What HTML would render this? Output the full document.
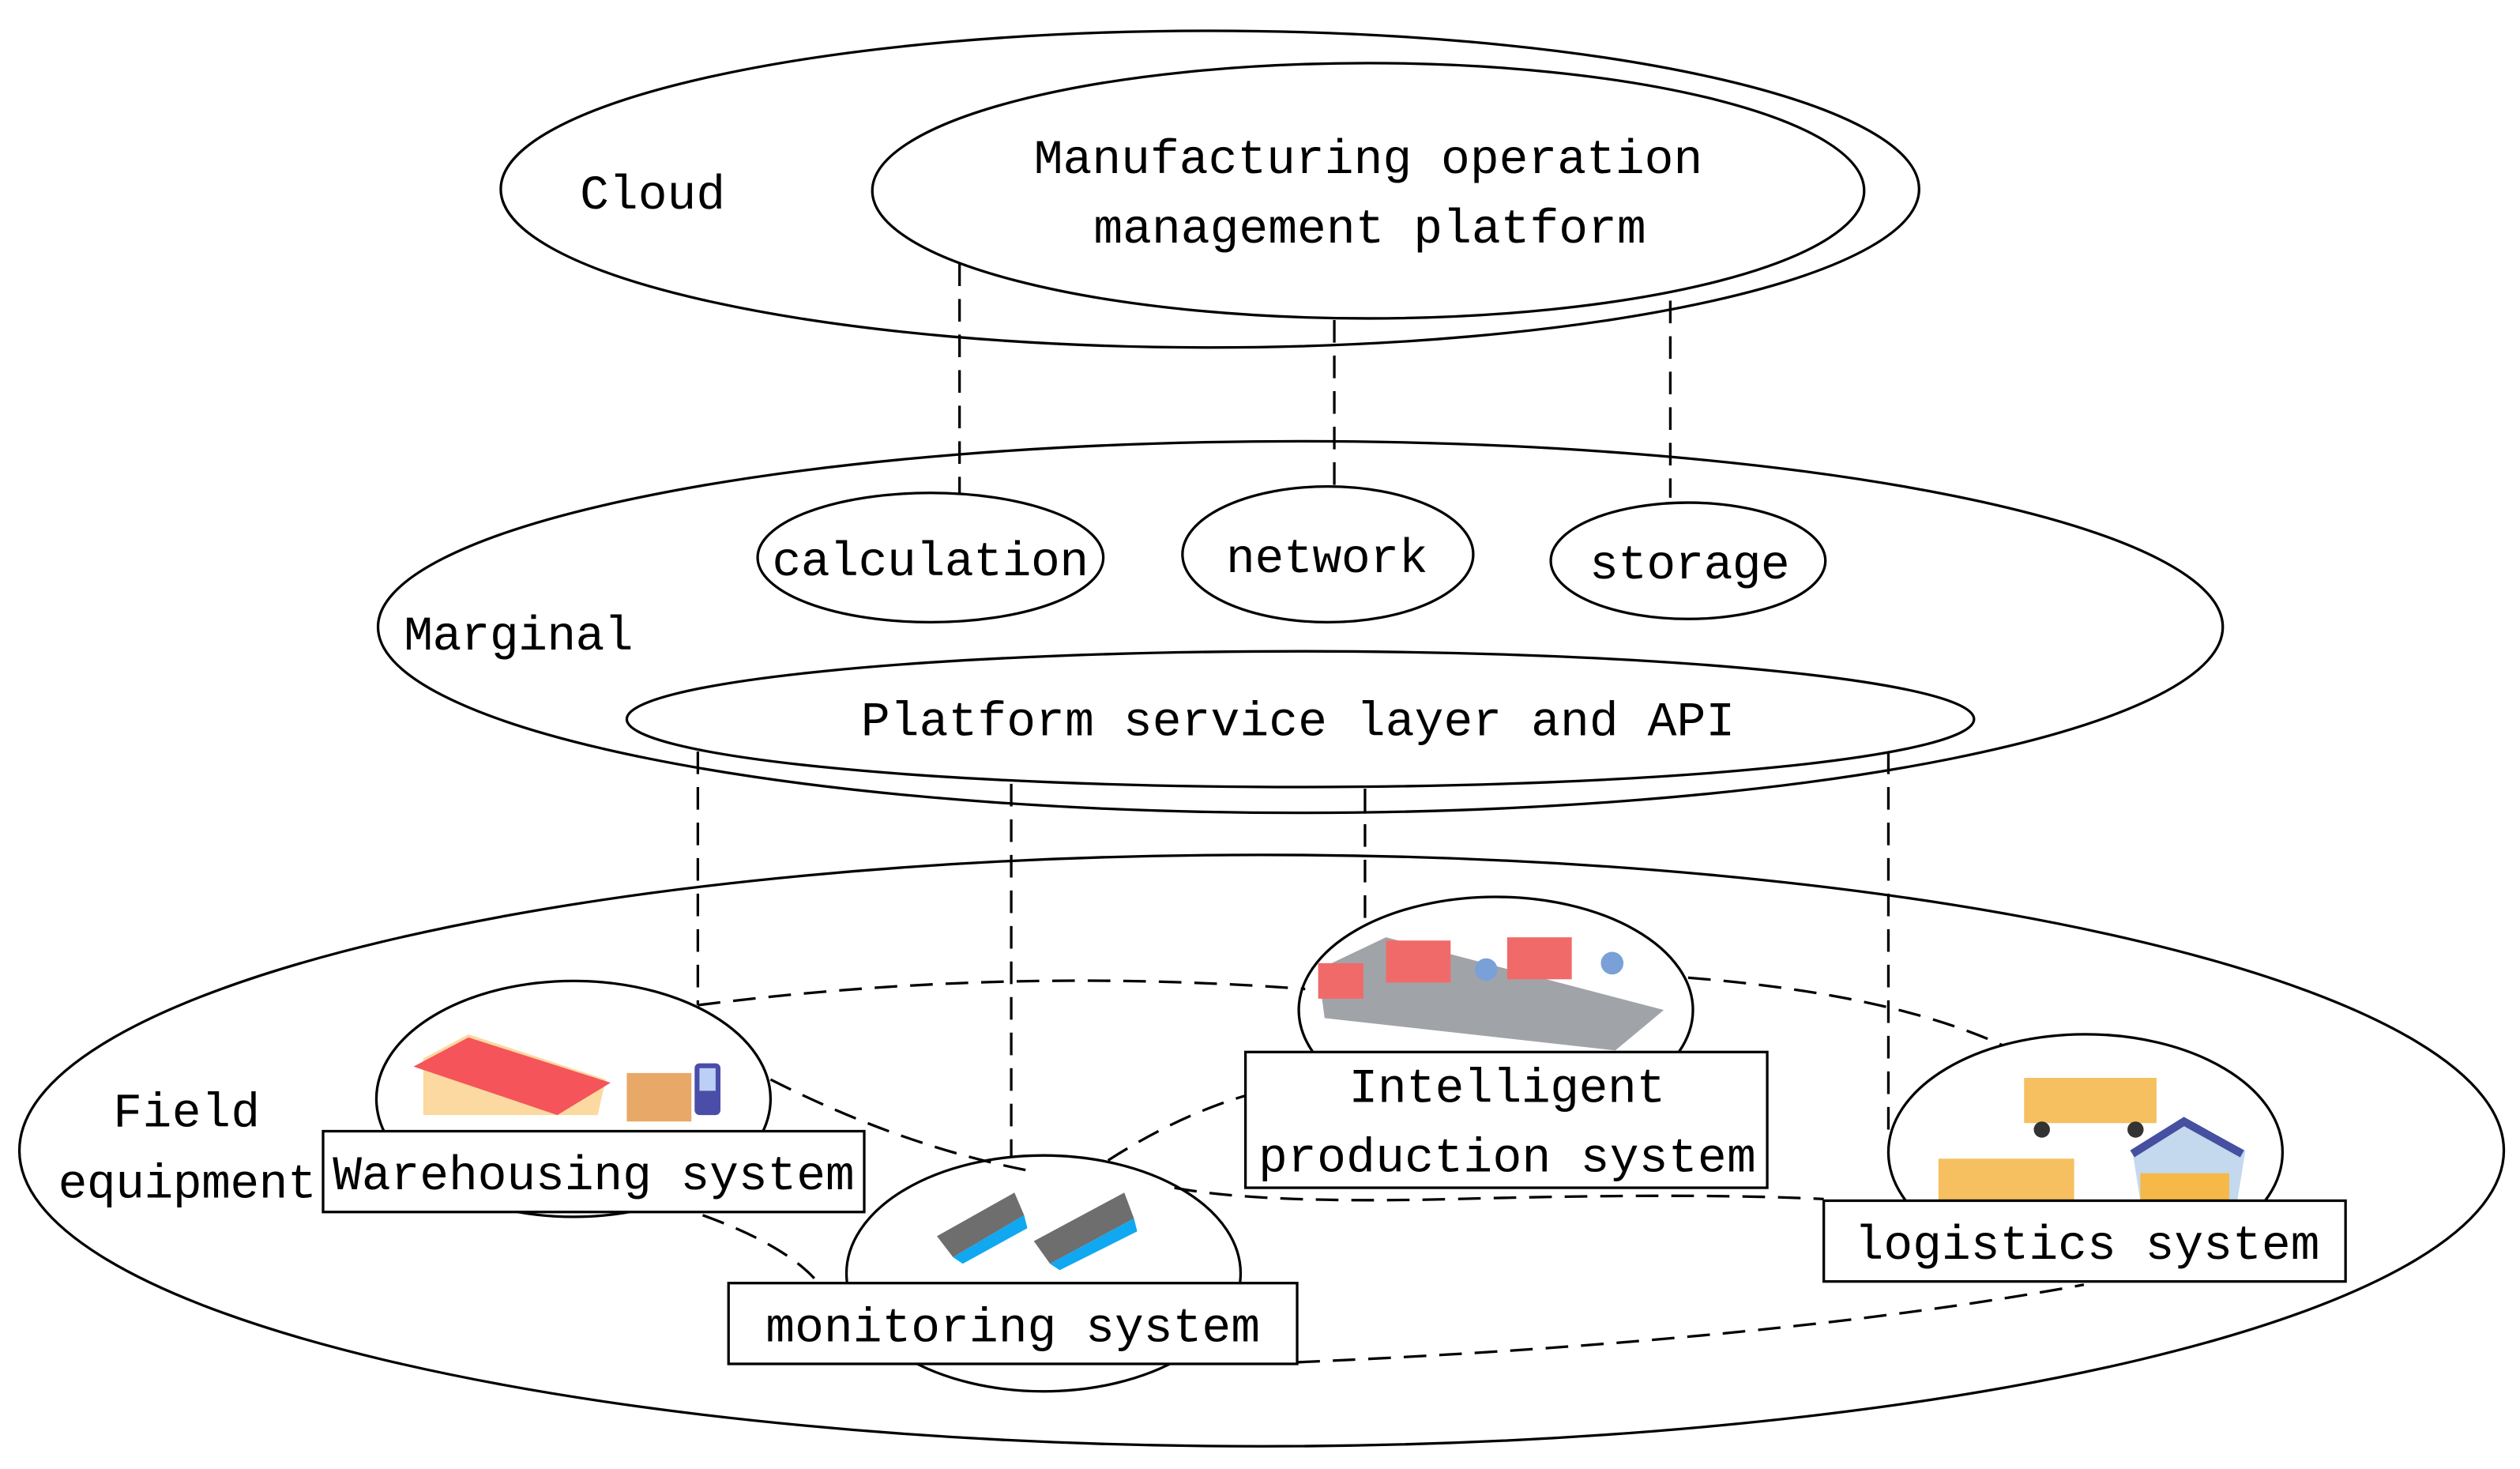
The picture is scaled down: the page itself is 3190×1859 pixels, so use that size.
<!DOCTYPE html>
<html><head><meta charset="utf-8"><style>html,body{margin:0;padding:0;background:#fff}svg{display:block}</style></head>
<body>
<svg width="3190" height="1859" viewBox="0 0 1560 909" xmlns="http://www.w3.org/2000/svg" font-family="'Liberation Mono','Noto Serif CJK SC',monospace" font-size="30">
<g fill="none" stroke="#000" stroke-width="1.6">
<ellipse cx="749" cy="117" rx="439" ry="98"/>
<ellipse cx="847" cy="118" rx="307" ry="79"/>
<ellipse cx="805" cy="388" rx="571" ry="115"/>
<ellipse cx="576" cy="345" rx="107" ry="40"/>
<ellipse cx="822" cy="343" rx="90" ry="42"/>
<ellipse cx="1045" cy="347" rx="85" ry="36"/>
<ellipse cx="805" cy="445" rx="417" ry="42"/>
<ellipse cx="781" cy="712" rx="769" ry="183"/>
<ellipse cx="355" cy="680" rx="122" ry="73"/>
<ellipse cx="926" cy="625" rx="122" ry="70"/>
<ellipse cx="646" cy="788" rx="122" ry="73"/>
<ellipse cx="1291" cy="713" rx="122" ry="73"/>
</g>
<g fill="none" stroke="#000" stroke-width="1.6" stroke-dasharray="14,8">
<line x1="594" y1="163" x2="594" y2="305"/>
<line x1="826" y1="198" x2="826" y2="300"/>
<line x1="1034" y1="186" x2="1034" y2="308"/>
<line x1="432" y1="465" x2="432" y2="622"/>
<line x1="626" y1="485" x2="626" y2="716"/>
<line x1="845" y1="488" x2="845" y2="575"/>
<line x1="1169" y1="465" x2="1169" y2="700"/>
<path d="M432 622 Q620 598 808 612"/>
<path d="M1045 605 Q1170 615 1240 647"/>
<path d="M477 668 Q560 710 640 725"/>
<path d="M727 735 Q780 745 900 742 Q1050 738 1129 742"/>
<path d="M686 718 Q730 690 771 678"/>
<path d="M435 752 Q485 770 505 792"/>
<path d="M803 843 Q1100 830 1290 795"/>
</g>
<g>
<polygon points="262,655 290,640 375,668 370,690 262,690" fill="#fbd9a0"/>
<polygon points="256,660 290,642 378,670 345,690" fill="#f4545a"/>
<rect x="388" y="664" width="40" height="30" fill="#e8a868"/>
<rect x="430" y="658" width="16" height="32" rx="3" fill="#4a4ea8"/>
<rect x="433" y="661" width="10" height="14" fill="#bcd0f5"/>
<polygon points="816,600 858,580 1030,625 1000,650 820,630" fill="#a0a4a8"/>
<rect x="816" y="596" width="28" height="22" fill="#f06a6a"/>
<rect x="858" y="582" width="40" height="26" fill="#f06a6a"/>
<rect x="933" y="580" width="40" height="26" fill="#f06a6a"/>
<circle cx="920" cy="600" r="7" fill="#7aa0d8"/><circle cx="998" cy="596" r="7" fill="#7aa0d8"/>
<polygon points="580,765 628,738 634,752 590,778" fill="#6e6e6e"/>
<polygon points="590,778 634,752 636,760 596,782" fill="#10a8f0"/>
<polygon points="640,768 696,738 702,754 650,782" fill="#6e6e6e"/>
<polygon points="650,782 702,754 704,762 656,786" fill="#10a8f0"/>
<rect x="1253" y="667" width="82" height="28" fill="#f6c060"/>
<circle cx="1264" cy="699" r="5" fill="#333"/><circle cx="1322" cy="699" r="5" fill="#333"/>
<rect x="1200" y="717" width="84" height="26" fill="#f6c060"/>
<polygon points="1320,712 1352,692 1390,712 1385,743 1325,743" fill="#c4d8ee"/>
<polyline points="1320,714 1352,694 1388,714" fill="none" stroke="#4550a0" stroke-width="5"/>
<rect x="1325" y="726" width="55" height="17" fill="#f6b848"/>
</g>
<g fill="#fff" stroke="#000" stroke-width="1.6">
<rect x="200" y="700" width="335" height="50"/>
<rect x="771" y="651" width="323" height="84"/>
<rect x="451" y="794" width="352" height="50"/>
<rect x="1129" y="743" width="323" height="50"/>
</g>
<g fill="#000">
<text x="359" y="129" textLength="90">Cloud</text>
<text x="640" y="107" textLength="414">Manufacturing operation</text>
<text x="677" y="150" textLength="342">management platform</text>
<text x="478" y="356" textLength="196">calculation</text>
<text x="759" y="354" textLength="125">network</text>
<text x="984" y="358" textLength="124">storage</text>
<text x="250" y="402" textLength="142">Marginal</text>
<text x="533" y="455" textLength="541">Platform service layer and API</text>
<text x="70" y="697" textLength="91">Field</text>
<text x="36" y="741" textLength="160">equipment</text>
<text x="206" y="736" textLength="323">Warehousing system</text>
<text x="835" y="682" textLength="196">Intelligent</text>
<text x="779" y="725" textLength="308">production system</text>
<text x="474" y="830" textLength="306">monitoring system</text>
<text x="1148" y="779" textLength="288">logistics system</text>
</g>
</svg>
</body></html>
